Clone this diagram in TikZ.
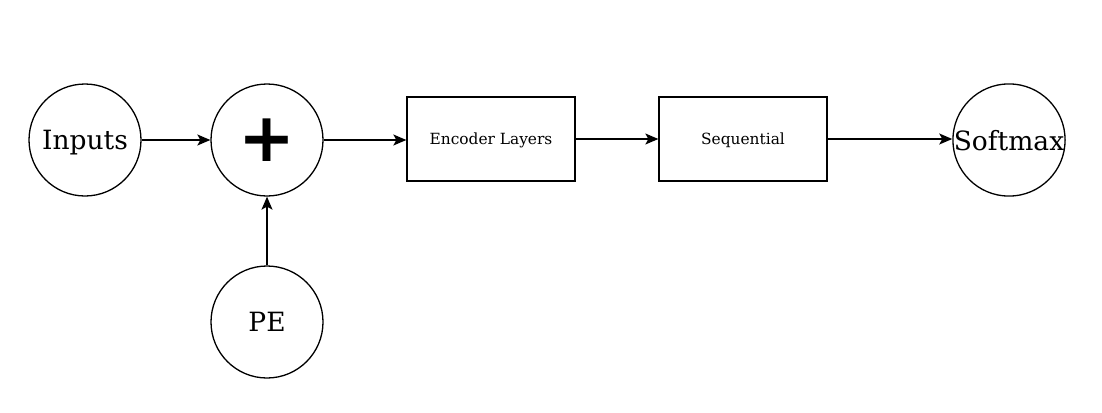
\documentclass[tikz,border=0pt]{standalone}
\usepackage{fontspec}
\setmainfont{DejaVu Serif}
\newfontfamily\plusfont{DejaVu Sans}
\usetikzlibrary{arrows.meta}
\begin{document}
\begin{tikzpicture}[x=1pt,y=-1pt,
  circ/.style={draw,circle,minimum size=112pt,inner sep=0pt,line width=1.3pt},
  blk/.style={draw,rectangle,minimum width=168pt,minimum height=84pt,inner sep=0pt,line width=1.3pt},
  conn/.style={-{Stealth[length=13pt,width=11pt,inset=3pt]},line width=1.3pt},
  lbl/.style={text depth=0pt}]
\useasboundingbox (0,0) rectangle (1102,412);
\node[circ,lbl] (inputs) at (85,140) {\fontsize{26.5}{30}\selectfont Inputs};
\node[circ] (plus) at (267,140) {\plusfont\fontsize{68}{70}\selectfont\bfseries +};
\node[circ,lbl] (pe) at (267,322) {\fontsize{26.5}{30}\selectfont PE};
\node[blk,lbl] (enc) at (491,139) {\fontsize{15.4}{18}\selectfont Encoder Layers};
\node[blk,lbl] (seq) at (743,139) {\fontsize{15.4}{18}\selectfont Sequential};
\node[circ,lbl] (soft) at (1009,140) {\fontsize{26.5}{30}\selectfont Softmax};
\draw[conn] (inputs) -- (plus);
\draw[conn] (plus.east) -- (enc.west|-plus.east);
\draw[conn] (enc) -- (seq);
\draw[conn] (seq.east) -- (soft.west|-seq.east);
\draw[conn] (pe) -- (plus);
\end{tikzpicture}
\end{document}
